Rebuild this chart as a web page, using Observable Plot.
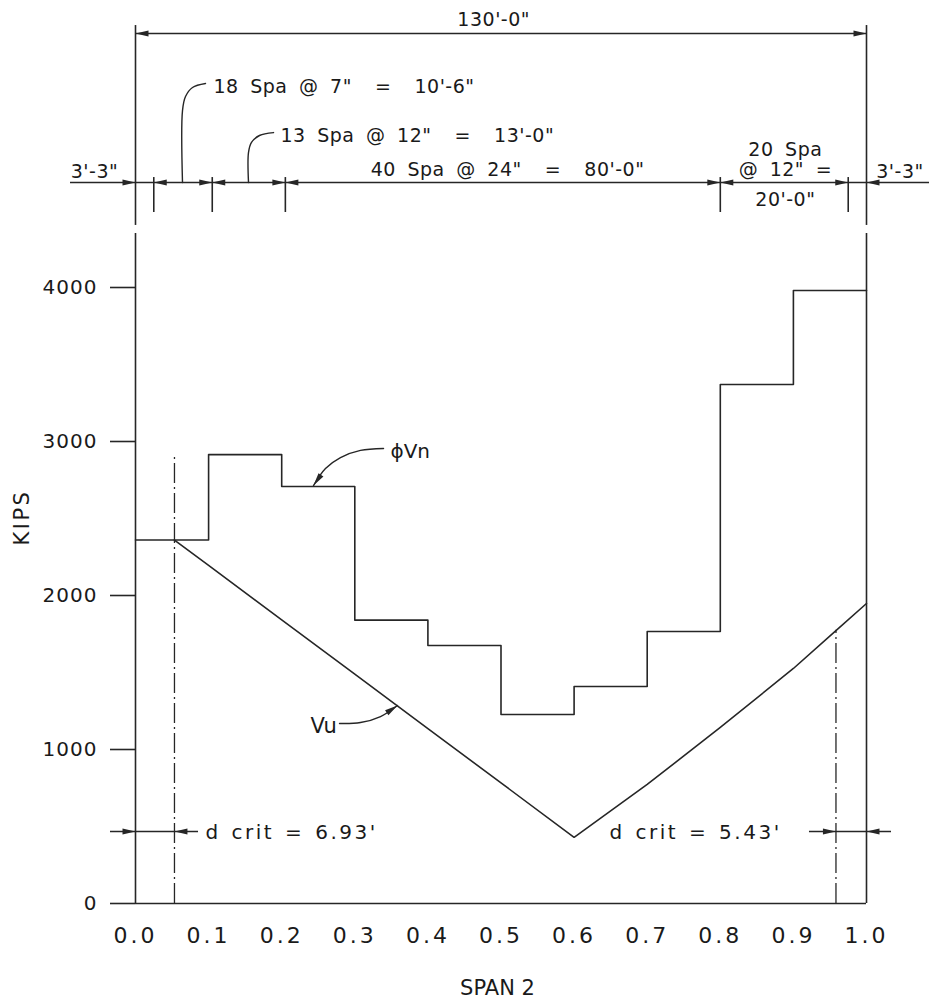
<!DOCTYPE html>
<html><head><meta charset="utf-8">
<script src="https://cdn.jsdelivr.net/npm/d3@7"></script>
<script src="https://cdn.jsdelivr.net/npm/@observablehq/plot@0.6"></script>
<style>
body{margin:0;background:#fff;}
svg text{white-space:pre;}
g[aria-label="x-axis tick label"] text{letter-spacing:3px;}
g[aria-label="y-axis tick label"] text{letter-spacing:1px;}
.sp text{word-spacing:5px;letter-spacing:0.5px;}
.dc text{letter-spacing:2.5px;word-spacing:2px;}
</style></head><body><div id="chart"></div>
<script>
// ---- chart data ----
const stepX   = [0, 0.1, 0.2, 0.3, 0.4, 0.5, 0.6, 0.7, 0.8, 0.9, 1.0];
const phiVn   = [2360, 2915, 2708, 1840, 1675, 1227, 1409, 1766, 3370, 3981, 3981];
const vuX     = [0.0533, 0.1, 0.2, 0.3, 0.4, 0.5, 0.6, 0.7, 0.8, 0.9, 0.9582, 1.0];
const vuKips  = [2360, 2195, 1842, 1489, 1136, 783, 430, 773, 1143, 1526, 1772, 1948];
const xTicks  = [0, 0.1, 0.2, 0.3, 0.4, 0.5, 0.6, 0.7, 0.8, 0.9, 1.0];
const yTicks  = [0, 1000, 2000, 3000, 4000];
const spanFt  = 130;
const dCritFt = [6.93, 5.43];
const dCritTop = [2922, 1775];
const dCritLabels = ["d crit = 6.93'", "d crit = 5.43'"];
const spacingTicks = [0.025, 0.105, 0.205, 0.8, 0.975];

// ---- annotation layout (data units: fraction of span, kips) ----
const dcritX = [dCritFt[0] / spanFt, 1 - dCritFt[1] / spanFt];
const frameTop = 4351, extBottom = 4403, extTop = 5701;
const dimOverall = 5649, dimSpacing = 4682, dimTickLo = 4487, dimTickHi = 4714, dimCrit = 468;

const textStart = [
  {t: "18 Spa @ 7\"  =  10'-6\"", x: 0.1067, y: 5266},
  {t: "13 Spa @ 12\"  =  13'-0\"", x: 0.1984, y: 4942}
];
const textMid = [
  {t: "130'-0\"", x: 0.49, y: 5695},
  {t: "40 Spa @ 24\"  =  80'-0\"", x: 0.509, y: 4721},
  {t: "3'-3\"", x: -0.0561, y: 4714},
  {t: "3'-3\"", x: 1.0458, y: 4714},
  {t: "20 Spa", x: 0.889, y: 4857},
  {t: "@ 12\" =", x: 0.889, y: 4727},
  {t: "20'-0\"", x: 0.889, y: 4532}
];
const arrowsR = [
  {x: 1, y: dimOverall},
  {x: 0, y: dimSpacing}, {x: 0.105, y: dimSpacing}, {x: 0.205, y: dimSpacing},
  {x: 0.8, y: dimSpacing}, {x: 0.975, y: dimSpacing},
  {x: 0, y: dimCrit}, {x: dcritX[1], y: dimCrit}
];
const arrowsL = [
  {x: 0, y: dimOverall},
  {x: 0.025, y: dimSpacing}, {x: 0.105, y: dimSpacing}, {x: 0.205, y: dimSpacing},
  {x: 0.8, y: dimSpacing}, {x: 1, y: dimSpacing},
  {x: dcritX[0], y: dimCrit}, {x: 1, y: dimCrit}
];
const leaders = [
  {g: "phi", x: 0.3393, y: 2955}, {g: "phi", x: 0.3078, y: 2942}, {g: "phi", x: 0.2804, y: 2896},
  {g: "phi", x: 0.2599, y: 2825}, {g: "phi", x: 0.2435, y: 2714},
  {g: "vu", x: 0.2791, y: 1169}, {g: "vu", x: 0.3078, y: 1175}, {g: "vu", x: 0.3352, y: 1214},
  {g: "vu", x: 0.3584, y: 1286},
  {g: "s18", x: 0.0643, y: 4682}, {g: "s18", x: 0.0643, y: 5149}, {g: "s18", x: 0.0684, y: 5240},
  {g: "s18", x: 0.078, y: 5299}, {g: "s18", x: 0.0958, y: 5325},
  {g: "s13", x: 0.1546, y: 4682}, {g: "s13", x: 0.1546, y: 4877}, {g: "s13", x: 0.1587, y: 4942},
  {g: "s13", x: 0.1696, y: 4987}, {g: "s13", x: 0.1888, y: 5006}
];

// ---- helpers ----
const ink = "#262626", sw = 1.6;
function arrowSym(deg) {
  return {draw(ctx) {
    const a = deg * Math.PI / 180, L = 13, W = 3, c = Math.cos(a), s = Math.sin(a);
    ctx.moveTo(0, 0);
    ctx.lineTo(-L * c + W * s, -L * s - W * c);
    ctx.lineTo(-L * c - W * s, -L * s + W * c);
    ctx.closePath();
  }};
}
const pts = (xs, ys) => xs.map((x, i) => ({x, y: ys[i]}));

const chart = Plot.plot({
  width: 932, height: 1000,
  marginLeft: 135, marginRight: 66, marginTop: 287, marginBottom: 97,
  x: {domain: [0, 1]},
  y: {domain: [0, 4000]},
  style: {fontFamily: "'DejaVu Sans', sans-serif", background: "white", color: "#1a1a1a"},
  marks: [
    Plot.axisY({ticks: yTicks, tickSize: 25, tickPadding: 13, fontSize: 20, label: null,
      tickFormat: d3.format("d"), stroke: ink, strokeWidth: sw}),
    Plot.axisX({ticks: xTicks, tickSize: 0, tickPadding: 24, fontSize: 22, label: null,
      tickFormat: d3.format(".1f")}),
    Plot.ruleY([0], {x1: 0, x2: 1, stroke: ink, strokeWidth: sw}),
    Plot.ruleX([0, 1], {y1: 0, y2: frameTop, stroke: ink, strokeWidth: sw}),
    Plot.ruleX([0, 1], {y1: extBottom, y2: extTop, stroke: ink, strokeWidth: sw}),
    Plot.line(pts(stepX, phiVn), {x: "x", y: "y", curve: "step-after", stroke: ink, strokeWidth: sw}),
    Plot.line(pts(vuX, vuKips), {x: "x", y: "y", stroke: ink, strokeWidth: sw}),
    Plot.ruleX(pts(dcritX, dCritTop), {x: "x", y1: 0, y2: "y", stroke: ink, strokeWidth: 1.3,
      strokeDasharray: "20,4,2,4"}),
    Plot.ruleY([dimOverall], {x1: 0, x2: 1, stroke: ink, strokeWidth: sw}),
    Plot.ruleY([dimSpacing], {x1: -0.0889, x2: 1.0862, stroke: ink, strokeWidth: sw}),
    Plot.ruleY([dimCrit], {x1: -0.0342, x2: 0.0862, stroke: ink, strokeWidth: sw}),
    Plot.ruleY([dimCrit], {x1: 0.922, x2: 1.0342, stroke: ink, strokeWidth: sw}),
    Plot.ruleX(spacingTicks, {y1: dimTickLo, y2: dimTickHi, stroke: ink, strokeWidth: sw}),
    Plot.line(leaders, {x: "x", y: "y", z: "g", curve: "catmull-rom", stroke: ink, strokeWidth: 1.4}),
    Plot.dot(arrowsR, {x: "x", y: "y", symbol: arrowSym(0), fill: ink, stroke: null}),
    Plot.dot(arrowsL, {x: "x", y: "y", symbol: arrowSym(180), fill: ink, stroke: null}),
    Plot.dot([{x: 0.2435, y: 2714}], {x: "x", y: "y", symbol: arrowSym(125), fill: ink, stroke: null}),
    Plot.dot([{x: 0.3584, y: 1286}], {x: "x", y: "y", symbol: arrowSym(-34), fill: ink, stroke: null}),
    Plot.text(textStart, {x: "x", y: "y", text: "t", textAnchor: "start", lineAnchor: "bottom",
      fontSize: 19, className: "sp"}),
    Plot.text(textMid, {x: "x", y: "y", text: "t", textAnchor: "middle", lineAnchor: "bottom",
      fontSize: 19, className: "sp"}),
    Plot.text([{t: dCritLabels[0], x: 0.0958, y: 422}, {t: dCritLabels[1], x: 0.6484, y: 422}],
      {x: "x", y: "y", text: "t", textAnchor: "start", lineAnchor: "bottom", fontSize: 20, className: "dc"}),
    Plot.text([{t: "\u03D5Vn", x: 0.3488, y: 2890}], {x: "x", y: "y", text: "t", textAnchor: "start",
      lineAnchor: "bottom", fontSize: 20}),
    Plot.text([{t: "Vu", x: 0.2394, y: 1110}], {x: "x", y: "y", text: "t", textAnchor: "start",
      lineAnchor: "bottom", fontSize: 21}),
    Plot.text([{t: "KIPS", x: -0.1546, y: 2506}], {x: "x", y: "y", text: "t", rotate: -90,
      textAnchor: "middle", lineAnchor: "middle", fontSize: 21, className: "dc"}),
    Plot.text([{t: "SPAN 2", x: 0.4952, y: -552}], {x: "x", y: "y", text: "t",
      textAnchor: "middle", lineAnchor: "middle", fontSize: 21})
  ]
});
document.getElementById("chart").appendChild(chart);
</script></body></html>
